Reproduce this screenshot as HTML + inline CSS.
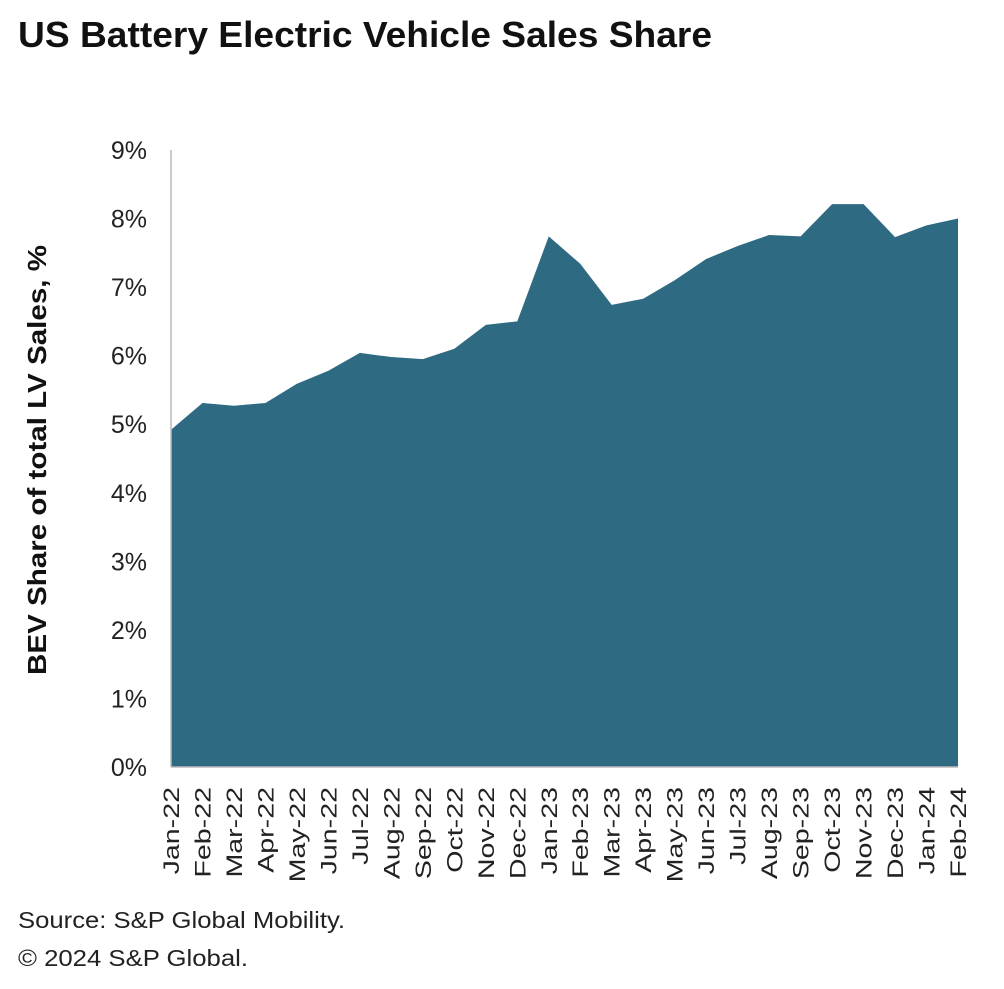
<!DOCTYPE html>
<html><head><meta charset="utf-8"><style>
body{margin:0;background:#fff;width:1004px;height:984px;overflow:hidden;font-family:"Liberation Sans",Arial,sans-serif}
</style></head><body>
<svg id="c" width="1004" height="984" xmlns="http://www.w3.org/2000/svg">
<text x="18" y="47" font-size="36" font-weight="bold" fill="#111" textLength="694" lengthAdjust="spacingAndGlyphs">US Battery Electric Vehicle Sales Share</text>
<text transform="translate(46,460) rotate(-90)" text-anchor="middle" font-size="26" font-weight="bold" fill="#111" textLength="430" lengthAdjust="spacingAndGlyphs">BEV Share of total LV Sales, %</text>
<text x="18" y="928" font-size="23" fill="#222" textLength="327" lengthAdjust="spacingAndGlyphs">Source: S&amp;P Global Mobility.</text>
<text x="18" y="966" font-size="23" fill="#222" textLength="230" lengthAdjust="spacingAndGlyphs">© 2024 S&amp;P Global.</text>
<g id="g"></g>
</svg>
<script>
const categories=["Jan-22","Feb-22","Mar-22","Apr-22","May-22","Jun-22","Jul-22","Aug-22","Sep-22","Oct-22","Nov-22","Dec-22","Jan-23","Feb-23","Mar-23","Apr-23","May-23","Jun-23","Jul-23","Aug-23","Sep-23","Oct-23","Nov-23","Dec-23","Jan-24","Feb-24"];
const bevShare=[4.92,5.31,5.27,5.31,5.59,5.78,6.04,5.98,5.95,6.1,6.45,6.5,7.74,7.34,6.74,6.83,7.1,7.41,7.6,7.76,7.74,8.21,8.21,7.73,7.9,8.0];
const yTicks=[0,1,2,3,4,5,6,7,8,9];
const NS="http://www.w3.org/2000/svg";
const g=document.getElementById('g');
const x0=171,x1=958,y0=767,y9=150;
const xs=i=>x0+(x1-x0)*i/(categories.length-1);
const ys=v=>y0+(y9-y0)*v/9;
function mk(t,a){const e=document.createElementNS(NS,t);for(const k in a)e.setAttribute(k,a[k]);g.appendChild(e);return e;}
let d="M"+xs(0)+","+y0;
bevShare.forEach((v,i)=>{d+=" L"+xs(i)+","+ys(v);});
d+=" L"+xs(bevShare.length-1)+","+y0+" Z";
const area=mk('path',{d:d,fill:'#2e6a82'});


const ax=mk('line',{x1:x0,y1:y9,x2:x0,y2:y0,stroke:'#bbb','stroke-width':1.5});


const bx=mk('line',{x1:x0,y1:y0,x2:x1,y2:y0,stroke:'#bbb','stroke-width':1.5});


yTicks.forEach(v=>{const t=mk('text',{x:147,y:ys(v)+9,'text-anchor':'end','font-size':25,fill:'#222'});t.textContent=v+'%';

});
categories.forEach((c,i)=>{const t=mk('text',{transform:`translate(${xs(i)+8},787) rotate(-90) scale(1.3,1)`,'text-anchor':'end','font-size':22,fill:'#222'});t.textContent=c;

});
</script>
</body></html>
